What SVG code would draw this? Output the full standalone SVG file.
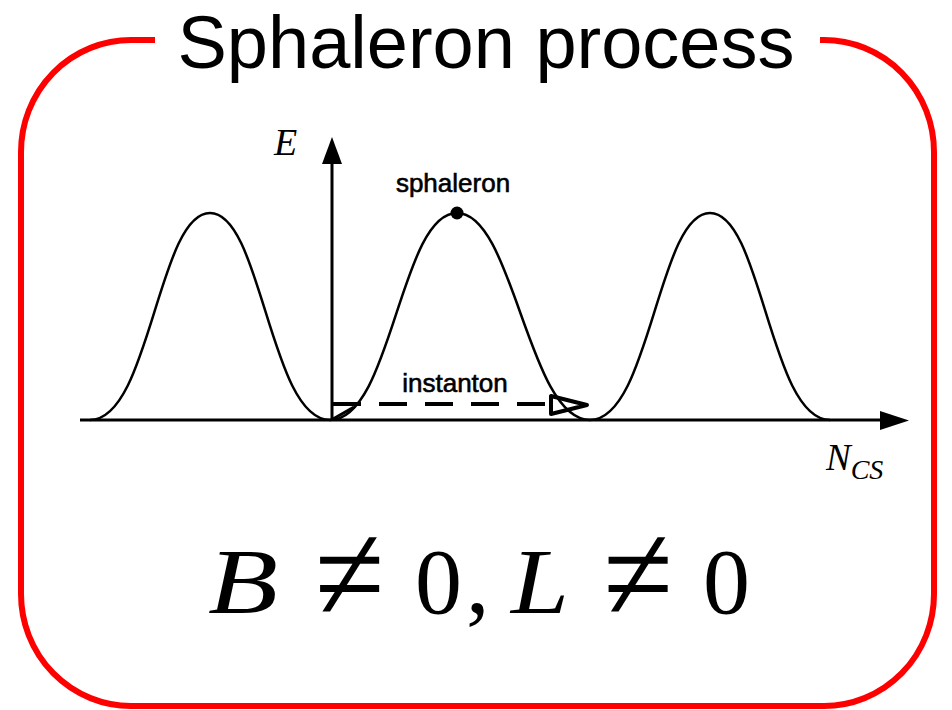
<svg xmlns="http://www.w3.org/2000/svg" width="952" height="710" viewBox="0 0 952 710">
<style>
.frame{fill:none;stroke:#ff0000;stroke-width:6}
.axis{fill:none;stroke:#000;stroke-width:3}
.curve{fill:none;stroke:#000;stroke-width:2.5}
.dash{fill:none;stroke:#000;stroke-width:4;stroke-dasharray:28 18}
.sans{font-family:"Liberation Sans",Arial,sans-serif;fill:#000}
.lbl{stroke:#000;stroke-width:0.6}
.serif{font-family:"Liberation Serif","Times New Roman",serif;fill:#000}
</style>
<rect width="952" height="710" fill="#fff"/>
<g id="frame">
<path class="frame" d="M155,40 H131 A110,112 0 0 0 21,152 V594 A110,112 0 0 0 131,706 H824 A110,112 0 0 0 934,594 V152 A110,112 0 0 0 824,40 H820"/>
<text class="sans" x="486" y="68" font-size="74" text-anchor="middle">Sphaleron process</text>
</g>
<g id="axes">
<line class="axis" x1="80" y1="420" x2="882" y2="420"/>
<path d="M880,411 L909,420.5 L880,430 Z" fill="#000"/>
<line class="axis" x1="332" y1="420" x2="332" y2="162"/>
<path d="M322,164 L332,137 L342,164 Z" fill="#000"/>
<text class="serif" x="274" y="155" font-size="38" font-style="italic">E</text>
<text class="serif" x="826" y="470" font-size="37" font-style="italic">N<tspan font-size="28" dy="9">CS</tspan></text>
</g>
<g id="potential">
<path class="curve" d="M90,420 C150,420 158,213 210,213 C262,213 270,420 330,420 C392,420 400,213 457,213 C514,213 528,420 590,420 C650,420 658,213 710,213 C762,213 770,420 830,420"/>
</g>
<g id="sphaleron">
<circle cx="457" cy="213" r="6.5" fill="#000"/>
<text class="sans lbl" x="453" y="192" font-size="26" text-anchor="middle">sphaleron</text>
</g>
<g id="connectors">
<g id="instanton">
<line x1="333" y1="419" x2="354" y2="407" stroke="#000" stroke-width="3"/>
<path class="dash" d="M333,404 H550"/>
<polygon points="551,396 551,414 587,405" fill="none" stroke="#000" stroke-width="4" stroke-linejoin="round"/>
<text class="sans lbl" x="455" y="392" font-size="26" text-anchor="middle">instanton</text>
</g>
</g>
<g id="formula" class="serif" font-size="94">
<text x="208" y="613" font-style="italic" textLength="70" lengthAdjust="spacingAndGlyphs">B</text>
<text transform="translate(349.5,588) scale(1.35,1.5)" x="0" y="22" text-anchor="middle">≠</text>
<text x="415" y="613">0</text>
<text x="466" y="613">,</text>
<text x="511" y="613" font-style="italic" textLength="58" lengthAdjust="spacingAndGlyphs">L</text>
<text transform="translate(638,588) scale(1.35,1.5)" x="0" y="22" text-anchor="middle">≠</text>
<text x="703" y="613">0</text>
</g>
</svg>
